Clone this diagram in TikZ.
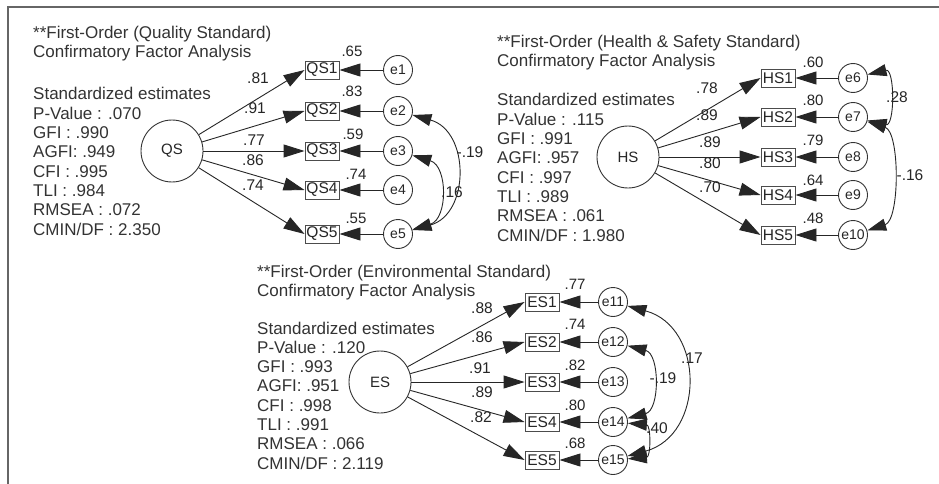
\documentclass[tikz,border=0pt]{standalone}
\usepackage{fontspec}
\setmainfont{Liberation Sans}
\usetikzlibrary{arrows.meta}
\begin{document}
\begin{tikzpicture}[x=1pt,y=-1pt,
  latent/.style={circle, draw=black!80, line width=0.9pt, minimum size=62pt, inner sep=0pt, font=\fontsize{15}{17}\selectfont, text=black!85},
  indic/.style={rectangle, draw=black!70, line width=0.9pt, minimum width=34pt, minimum height=18pt, inner sep=0pt, font=\fontsize{15.5}{17}\selectfont, text=black!85},
  errc/.style={circle, draw=black!80, line width=0.9pt, minimum size=29pt, inner sep=0pt, font=\fontsize{14}{16}\selectfont, text=black!85},
  load/.style={-{Triangle[length=21pt,width=13pt]}, draw=black!85, line width=0.9pt},
  cov/.style={{Triangle[length=19pt,width=12pt]}-{Triangle[length=19pt,width=12pt]}, draw=black!85, line width=0.9pt},
  est/.style={inner sep=0pt, font=\fontsize{15.5}{17}\selectfont, text=black!85},
  smc/.style={inner sep=0pt, font=\fontsize{15}{17}\selectfont, text=black!85},
  info/.style={anchor=base west, inner sep=0pt, font=\fontsize{17}{19}\selectfont, text=black!80},
  frame/.style={draw=black!60, line width=2pt}]
\useasboundingbox (0,0) rectangle (939,484);
\fill[white] (0,0) rectangle (939,484);

% outer frame (top and left edges)
\coordinate (fTL) at (8,7);
\coordinate (fTR) at (939,7);
\coordinate (fBL) at (8,484);
\draw[frame] (fTR) -- (fTL) -- (fBL);

% ---------------- Quality Standard ----------------
\foreach \s [count=\k] in {{**First-Order (Quality Standard)}, {Confirmatory Factor Analysis}}
  \node[info] (qsT\k) at (33,{39+19*(\k-1)}) {\s};
\foreach \s [count=\k] in {Standardized estimates, P-Value : .070, GFI : .990, AGFI: .949, CFI : .995, TLI : .984, RMSEA : .072, CMIN/DF : 2.350}
  \node[info] (qsS\k) at (33,{100+19.3*(\k-1)}) {\s};

\node[latent] (QS) at (172,151) {QS};
\foreach \k/\y in {1/70, 2/111, 3/151, 4/190, 5/234} {
  \node[indic] (QS\k) at (322,\y) {QS\k};
  \node[errc] (e\k) at (398,\y) {e\k};
  \draw[load] (QS) -- (QS\k.west);
  \draw[load] (e\k) -- (QS\k);
}
\node[est] (lq1) at (258,78) {.81};
\node[est] (lq2) at (255,108) {.91};
\node[est] (lq3) at (254,140) {.77};
\node[est] (lq4) at (253,160) {.86};
\node[est] (lq5) at (253,185) {.74};
\node[smc] (rq1) at (352,51) {.65};
\node[smc] (rq2) at (352,91) {.83};
\node[smc] (rq3) at (353,134) {.59};
\node[smc] (rq4) at (356,174) {.74};
\node[smc] (rq5) at (356,218) {.55};
\draw[cov] (e2) .. controls +(72,20) and +(72,-20) .. (e5);
\draw[cov] (e3) .. controls +(50,15) and +(50,-15) .. (e5);
\node[est] (cq1) at (470,152) {-.19};
\node[est] (cq2) at (452,192) {.16};

% ---------------- Health & Safety Standard ----------------
\foreach \s [count=\k] in {{**First-Order (Health \& Safety Standard)}, {Confirmatory Factor Analysis}}
  \node[info] (hsT\k) at (497,{48+19*(\k-1)}) {\s};
\foreach \s [count=\k] in {Standardized estimates, P-Value : .115, GFI : .991, AGFI: .957, CFI : .997, TLI : .989, RMSEA : .061, CMIN/DF : 1.980}
  \node[info] (hsS\k) at (497,{106+19.3*(\k-1)}) {\s};

\node[latent] (HS) at (628,157) {HS};
\foreach \k/\y [evaluate=\k as \j using int(\k+5)] in {1/78, 2/117, 3/157, 4/195, 5/235} {
  \node[indic] (HS\k) at (778,\y) {HS\k};
  \node[errc] (e\j) at (853,\y) {e\j};
  \draw[load] (HS) -- (HS\k.west);
  \draw[load] (e\j) -- (HS\k);
}
\node[est] (lh1) at (707,88) {.78};
\node[est] (lh2) at (707,115) {.89};
\node[est] (lh3) at (710,142) {.89};
\node[est] (lh4) at (710,163) {.80};
\node[est] (lh5) at (710,187) {.70};
\node[smc] (rh1) at (813,62) {.60};
\node[smc] (rh2) at (813,100) {.80};
\node[smc] (rh3) at (813,140) {.79};
\node[smc] (rh4) at (813,180) {.64};
\node[smc] (rh5) at (813,218) {.48};
\draw[cov] (e6) .. controls +(42,-10) and +(42,10) .. (e7);
\draw[cov] (e7) .. controls +(47,15) and +(47,-15) .. (e10);
\node[est] (ch1) at (897,97) {.28};
\node[est] (ch2) at (910,175) {-.16};

% ---------------- Environmental Standard ----------------
\foreach \s [count=\k] in {{**First-Order (Environmental Standard)}, {Confirmatory Factor Analysis}}
  \node[info] (esT\k) at (257,{277+19*(\k-1)}) {\s};
\foreach \s [count=\k] in {Standardized estimates, P-Value : .120, GFI : .993, AGFI: .951, CFI : .998, TLI : .991, RMSEA : .066, CMIN/DF : 2.119}
  \node[info] (esS\k) at (257,{334+19.3*(\k-1)}) {\s};

\node[latent] (ES) at (380,382) {ES};
\foreach \k/\y [evaluate=\k as \j using int(\k+10)] in {1/302, 2/342, 3/382, 4/422, 5/460} {
  \node[indic] (ES\k) at (542,\y) {ES\k};
  \node[errc] (e\j) at (613,\y) {e\j};
  \draw[load] (ES) -- (ES\k.west);
  \draw[load] (e\j) -- (ES\k);
}
\node[est] (le1) at (482,308) {.88};
\node[est] (le2) at (482,337) {.86};
\node[est] (le3) at (480,368) {.91};
\node[est] (le4) at (482,392) {.89};
\node[est] (le5) at (481,417) {.82};
\node[smc] (re1) at (575,284) {.77};
\node[smc] (re2) at (575,324) {.74};
\node[smc] (re3) at (575,365) {.82};
\node[smc] (re4) at (575,405) {.80};
\node[smc] (re5) at (575,443) {.68};
\draw[cov] (e11) .. controls +(92,25) and +(92,-25) .. (e15);
\draw[cov] (e12) .. controls +(47,12) and +(47,-12) .. (e14);
\draw[cov] (e14) .. controls +(38,3) and +(38,-3) .. (e15);
\node[est] (ce1) at (692,358) {.17};
\node[est] (ce2) at (663,378) {-.19};
\node[est] (ce3) at (657,428) {.40};
\end{tikzpicture}
\end{document}
